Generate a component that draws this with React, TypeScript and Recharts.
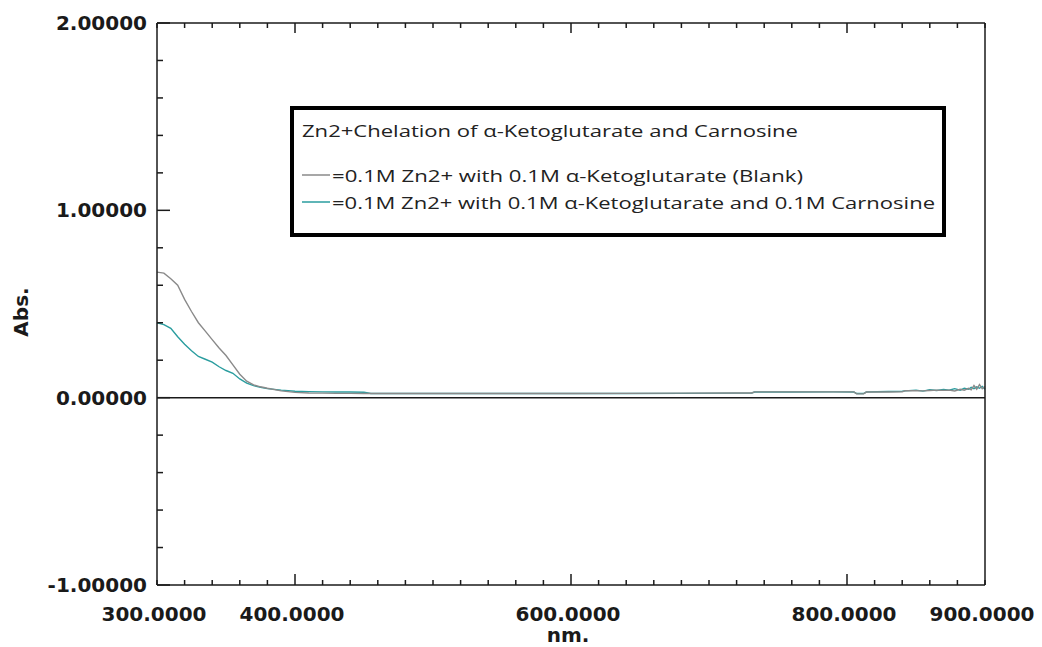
import { LineChart, Line, XAxis, YAxis, ReferenceLine, Legend } from "recharts";

// wavelength (nm) and absorbance
const WAVELENGTHS = [
  300, 305, 310, 315, 320, 325, 330, 335, 340, 345, 350, 355, 360, 365, 370, 375, 380, 390, 400, 410, 420,
  430, 440, 450, 455, 480, 520, 560, 600, 640, 680, 720, 731, 733, 760, 790, 805, 807, 812, 814, 830, 840,
  842, 850, 855, 860, 865, 870, 874, 878, 882, 885, 888, 890, 892, 894, 896, 898, 900,
];
const BLANK = [
  0.67, 0.665, 0.635, 0.6, 0.525, 0.46, 0.4, 0.355, 0.31, 0.265, 0.225, 0.175, 0.125, 0.088, 0.068, 0.058,
  0.05, 0.036, 0.028, 0.025, 0.024, 0.023, 0.023, 0.022, 0.022, 0.022, 0.022, 0.022, 0.022, 0.023, 0.024,
  0.025, 0.025, 0.031, 0.031, 0.031, 0.031, 0.02, 0.02, 0.03, 0.03, 0.031, 0.037, 0.037, 0.036, 0.038, 0.04,
  0.039, 0.04, 0.036, 0.045, 0.04, 0.05, 0.042, 0.065, 0.045, 0.07, 0.048, 0.06,
];
const CARNOSINE = [
  0.4, 0.39, 0.37, 0.325, 0.285, 0.25, 0.22, 0.205, 0.19, 0.165, 0.145, 0.13, 0.1, 0.078, 0.064, 0.055,
  0.048, 0.04, 0.034, 0.032, 0.031, 0.03, 0.03, 0.029, 0.022, 0.022, 0.022, 0.022, 0.022, 0.022, 0.023,
  0.024, 0.025, 0.03, 0.03, 0.031, 0.03, 0.022, 0.022, 0.03, 0.033, 0.034, 0.036, 0.04, 0.035, 0.042, 0.038,
  0.044, 0.04, 0.048, 0.04, 0.05, 0.045, 0.055, 0.048, 0.058, 0.05, 0.06, 0.045,
];

const X_TICKS = [
  300, 320, 340, 360, 380, 400, 420, 440, 460, 480, 500, 520, 540, 560, 580, 600, 620, 640, 660, 680, 700,
  720, 740, 760, 780, 800, 820, 840, 860, 880, 900,
];
const X_MAJOR = [400, 600, 800];
const X_LABELS = [300, 400, 600, 800, 900];
const Y_TICKS = [-1, -0.8, -0.6, -0.4, -0.2, 0, 0.2, 0.4, 0.6, 0.8, 1, 1.2, 1.4, 1.6, 1.8, 2];
const Y_LABELS = [-1, 0, 1, 2];

const LEGEND_TITLE = "Zn2+Chelation of α-Ketoglutarate and Carnosine";
const BLANK_NAME = "=0.1M Zn2+ with 0.1M α-Ketoglutarate (Blank)";
const CARNOSINE_NAME = "=0.1M Zn2+ with 0.1M α-Ketoglutarate and 0.1M Carnosine";

const GRAY = "#8a8a8a";
const TEAL = "#2a9d9f";
const INK = "#1a1a1a";
const AXIS_FONT = { fontFamily: "'DejaVu Sans', sans-serif", fontWeight: 700, fontSize: 20, fill: INK };

// legend rows: name, colour, stretched text width (the original text is wide)
const LEGEND_ROWS = [
  { name: BLANK_NAME, color: GRAY, width: 471 },
  { name: CARNOSINE_NAME, color: TEAL, width: 603 },
];

const rows = WAVELENGTHS.map((nm, i) => ({ nm, blank: BLANK[i], carnosine: CARNOSINE[i] }));

function BottomTick({ x, y, payload }: any) {
  const v = payload.value;
  const len = X_MAJOR.includes(v) ? 11 : 5;
  return (
    <g>
      <line x1={x} x2={x} y1={y} y2={y - len} stroke={INK} strokeWidth={1.5} />
      {X_LABELS.includes(v) && (
        <text x={x - 3} y={y + 36} textAnchor="middle" {...AXIS_FONT}>
          {v.toFixed(4)}
        </text>
      )}
    </g>
  );
}

function TopTick({ x, y, payload }: any) {
  const len = X_MAJOR.includes(payload.value) ? 10 : 5;
  return <line x1={x} x2={x} y1={y} y2={y + len} stroke={INK} strokeWidth={1.5} />;
}

function LeftTick({ x, y, payload }: any) {
  const v = payload.value;
  const major = Y_LABELS.includes(v);
  return (
    <g>
      <line x1={x} x2={x + (major ? 13 : 6)} y1={y} y2={y} stroke={INK} strokeWidth={1.5} />
      {major && (
        <text x={x - 10} y={y + 7} textAnchor="end" {...AXIS_FONT}>
          {v.toFixed(5)}
        </text>
      )}
    </g>
  );
}

function RightTick({ x, y, payload }: any) {
  const len = Y_LABELS.includes(payload.value) ? 13 : 8;
  return <line x1={x} x2={x - len} y1={y} y2={y} stroke={INK} strokeWidth={1.5} />;
}

function LegendBox() {
  const font = { fontFamily: "'Open Sans', sans-serif", fontSize: 15.5, fill: "#222" };
  const baselines = [76, 103];
  return (
    <svg width={656} height={131} style={{ display: "block" }}>
      <rect x={2} y={2} width={652} height={127} fill="#fff" stroke="#000" strokeWidth={4} />
      <text x={12} y={31} textLength={496} lengthAdjust="spacingAndGlyphs" {...font}>
        {LEGEND_TITLE}
      </text>
      {LEGEND_ROWS.map((r, i) => (
        <g key={r.name}>
          <line x1={12} x2={40} y1={baselines[i] - 7} y2={baselines[i] - 7} stroke={r.color} strokeWidth={1.5} />
          <text x={42} y={baselines[i]} textLength={r.width} lengthAdjust="spacingAndGlyphs" {...font}>
            {r.name}
          </text>
        </g>
      ))}
    </svg>
  );
}

export default function App() {
  return (
    <div style={{ position: "absolute", left: 0, top: 0, background: "#fff" }}>
      <LineChart width={1042} height={647} data={rows} margin={{ top: 22, right: 56, bottom: 0, left: 0 }}>
        <XAxis
          dataKey="nm"
          type="number"
          domain={[300, 900]}
          ticks={X_TICKS}
          interval={0}
          height={62}
          tickSize={0}
          tickMargin={0}
          tick={<BottomTick />}
          axisLine={{ stroke: INK, strokeWidth: 1.5 }}
          label={{
            content: ({ viewBox }: any) => (
              <text x={viewBox.x + viewBox.width / 2 - 3} y={viewBox.y + 57} textAnchor="middle" {...AXIS_FONT}>
                nm.
              </text>
            ),
          }}
        />
        <XAxis
          xAxisId="top"
          orientation="top"
          dataKey="nm"
          type="number"
          domain={[300, 900]}
          ticks={X_TICKS}
          interval={0}
          height={1}
          tickSize={0}
          tickMargin={0}
          tick={<TopTick />}
          axisLine={{ stroke: INK, strokeWidth: 1.5 }}
        />
        <YAxis
          type="number"
          domain={[-1, 2]}
          ticks={Y_TICKS}
          interval={0}
          width={157}
          tickSize={0}
          tickMargin={0}
          tick={<LeftTick />}
          axisLine={{ stroke: INK, strokeWidth: 1.5 }}
          allowDataOverflow
          label={{
            content: ({ viewBox }: any) => (
              <text
                x={28}
                y={viewBox.y + viewBox.height / 2 + 8}
                textAnchor="middle"
                transform={`rotate(-90 28 ${viewBox.y + viewBox.height / 2 + 8})`}
                {...AXIS_FONT}
              >
                Abs.
              </text>
            ),
          }}
        />
        <YAxis
          yAxisId="right"
          orientation="right"
          type="number"
          domain={[-1, 2]}
          ticks={Y_TICKS}
          interval={0}
          width={1}
          tickSize={0}
          tickMargin={0}
          tick={<RightTick />}
          axisLine={{ stroke: INK, strokeWidth: 1.5 }}
        />
        <ReferenceLine y={0} stroke={INK} strokeWidth={1.5} />
        <Line
          dataKey="carnosine"
          name={CARNOSINE_NAME}
          stroke={TEAL}
          strokeWidth={1.4}
          dot={false}
          isAnimationActive={false}
        />
        <Line
          dataKey="blank"
          name={BLANK_NAME}
          stroke={GRAY}
          strokeWidth={1.4}
          dot={false}
          isAnimationActive={false}
        />
        <Legend
          layout="horizontal"
          verticalAlign="middle"
          align="center"
          content={<LegendBox />}
          wrapperStyle={{ left: 290, top: 106, width: 656, height: 131 }}
        />
      </LineChart>
    </div>
  );
}
